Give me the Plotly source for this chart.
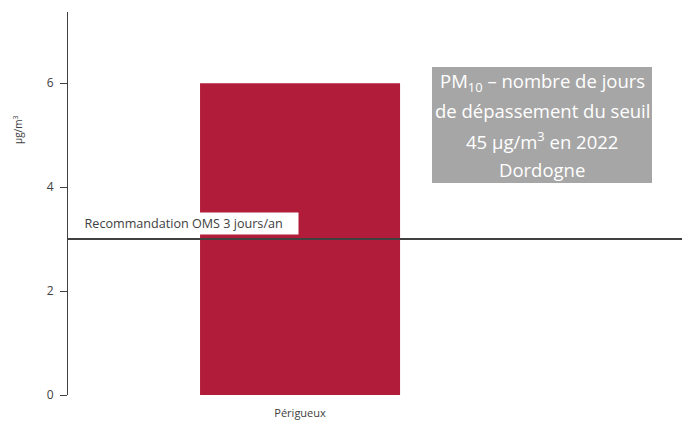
import plotly.graph_objects as go

categories = ["Périgueux"]
values = [6]
threshold = 3
threshold_label = "Recommandation OMS 3 jours/an"
y_ticks = [0, 2, 4, 6]
title_lines = ["PM<sub>10</sub> – nombre de jours", "de dépassement du seuil",
               "45 µg/m<sup>3</sup> en 2022", "Dordogne"]

FONT = "Open Sans, sans-serif"
W, H = 682, 421
L, R, T, B = 68, 0, 12, 26
PW, PH = W - L - R, H - T - B


def px(x):
    return (x - L) / PW


def py(y):
    return (H - B - y) / PH


fig = go.Figure()
fig.add_trace(go.Bar(
    x=[0], y=values, width=0.431,
    marker=dict(color="#B01C3A", line=dict(width=0)),
    showlegend=False, hoverinfo="skip",
))

fig.add_shape(type="line", xref="paper", yref="y", x0=0, x1=1, y0=threshold, y1=threshold,
              line=dict(color="#404040", width=2))

fig.add_annotation(xref="paper", yref="y", x=px(75), y=threshold, yshift=16,
                   text="&nbsp;&nbsp;" + threshold_label + "&nbsp;&nbsp;&nbsp;&nbsp;", showarrow=False,
                   xanchor="left", yanchor="middle",
                   font=dict(family=FONT, size=12.6, color="#404040"),
                   bgcolor="white", borderpad=2)

# title box
fig.add_shape(type="rect", xref="paper", yref="paper",
              x0=px(432), x1=px(652), y0=py(183), y1=py(67),
              fillcolor="#A6A6A6", line=dict(width=0), layer="above")
for i, line in enumerate(title_lines):
    fig.add_annotation(xref="paper", yref="paper", x=px(542), y=py(82 + 29 * i),
                       xanchor="center", yanchor="middle", text=line, showarrow=False,
                       font=dict(family=FONT, size=18.5, color="white"))

fig.add_annotation(xref="paper", yref="paper", x=px(18), y=py(130),
                   xanchor="center", yanchor="middle",
                   text="µg/m<sup>3</sup>", textangle=-90, showarrow=False,
                   font=dict(family=FONT, size=10, color="#404040"))

fig.update_layout(
    width=W, height=H,
    margin=dict(l=L, r=R, t=T, b=B, autoexpand=False),
    plot_bgcolor="white", paper_bgcolor="white",
    xaxis=dict(range=[-0.5, 0.823], tickvals=[0], ticktext=categories,
               showline=False, showgrid=False, zeroline=False, ticks="",
               ticklabelstandoff=10,
               tickfont=dict(family=FONT, size=11, color="#404040")),
    yaxis=dict(range=[0, 7.37], tickvals=y_ticks, showgrid=False, zeroline=False,
               showline=True, linecolor="#404040", linewidth=1,
               ticks="outside", ticklen=7, tickcolor="#404040",
               ticklabelstandoff=4,
               tickfont=dict(family=FONT, size=12, color="#404040")),
)

fig.write_html("out.html", config={"displayModeBar": False},
               post_script="document.body.style.margin='0';document.body.style.overflow='hidden';")
